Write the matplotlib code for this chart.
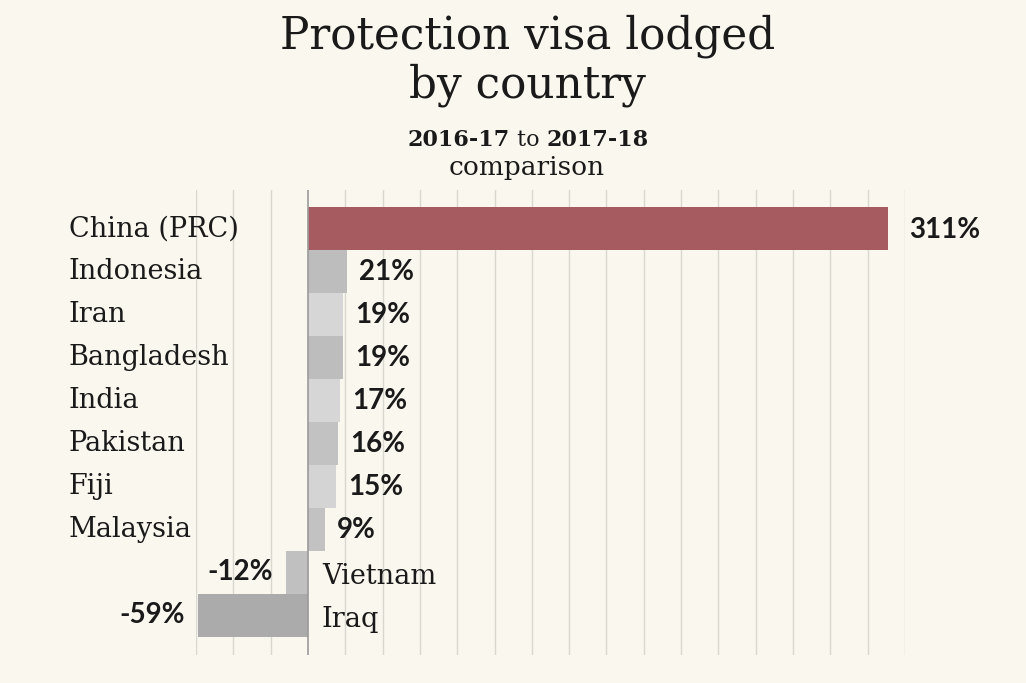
import matplotlib.pyplot as plt
import matplotlib.transforms as mtransforms

countries = ['China (PRC)', 'Indonesia', 'Iran', 'Bangladesh', 'India',
             'Pakistan', 'Fiji', 'Malaysia', 'Vietnam', 'Iraq']
change = [311, 21, 19, 19, 17, 16, 15, 9, -12, -59]
bar_colors = ['#a65b61', '#bdbdbd', '#d6d6d6', '#bdbdbd', '#d6d6d6',
              '#c2c2c2', '#d4d4d4', '#c2c2c2', '#c0c0c0', '#ababab']

bg = '#faf7ef'
fig = plt.figure(figsize=(10.26, 6.83), dpi=100, facecolor=bg)
ax = fig.add_axes([196 / 1026, 1 - 655 / 683, 709 / 1026, 465 / 683])
ax.set_facecolor(bg)

rows = list(range(len(countries)))
ax.barh(rows, change, height=1.0, color=bar_colors, zorder=3)

ax.set_xlim(-60, 320)
ax.set_ylim(len(countries) - 0.07, -0.9)
for x in range(-60, 321, 20):
    if x == 0:
        ax.axvline(x, color='#9a9a9a', lw=1.2, zorder=4)
    else:
        ax.axvline(x, color='#d8d8d0', lw=1.0, zorder=1)

for s in ax.spines.values():
    s.set_visible(False)
ax.set_xticks([])
ax.set_yticks([])

trans = mtransforms.blended_transform_factory(fig.transFigure, ax.transData)
serif = 'DejaVu Serif'
vfont = 'Lato'
for i, (name, v) in enumerate(zip(countries, change)):
    if v >= 0:
        ax.text(69 / 1026, i, name, transform=trans, ha='left', va='center',
                fontsize=19.5, family=serif, color='#1a1a1a')
        gap = 11 if i == 0 else 6.5
        ax.text(v + gap, i + 0.02, f'{v}%', ha='left', va='center',
                fontsize=20, fontweight='bold', family=vfont, color='#1a1a1a', zorder=5)
    else:
        ax.text(7.5, i + 0.1, name, ha='left', va='center',
                fontsize=19.5, family=serif, color='#1a1a1a', zorder=5)
        ax.text(v - 7, i, f'{v}%', ha='right', va='center',
                fontsize=20, fontweight='bold', family=vfont, color='#1a1a1a', zorder=5)

fig.text(0.514, 1 - 36 / 683, 'Protection visa lodged', ha='center', va='center',
         fontsize=31.5, family=serif, color='#1a1a1a')
fig.text(0.514, 1 - 85 / 683, 'by country', ha='center', va='center',
         fontsize=31.5, family=serif, color='#1a1a1a')

# subtitle with mixed weights
parts = [('2016-17', 'bold'), (' to ', 'normal'), ('2017-18', 'bold')]
fig.canvas.draw()
renderer = fig.canvas.get_renderer()
widths = []
tmp = []
for s, w in parts:
    t = fig.text(0, 0, s, fontsize=16, fontweight=w, family=serif)
    widths.append(t.get_window_extent(renderer).width)
    tmp.append(t)
for t in tmp:
    t.remove()
x0 = 528 - sum(widths) / 2
for (s, w), wd in zip(parts, widths):
    fig.text(x0 / 1026, 1 - 140 / 683, s, ha='left', va='center', fontsize=16,
             fontweight=w, family=serif, color='#1a1a1a')
    x0 += wd
fig.text(527 / 1026, 1 - 168 / 683, 'comparison', ha='center', va='center',
         fontsize=19, family=serif, color='#1a1a1a')

fig.savefig('out.png', dpi=100, facecolor=bg)
